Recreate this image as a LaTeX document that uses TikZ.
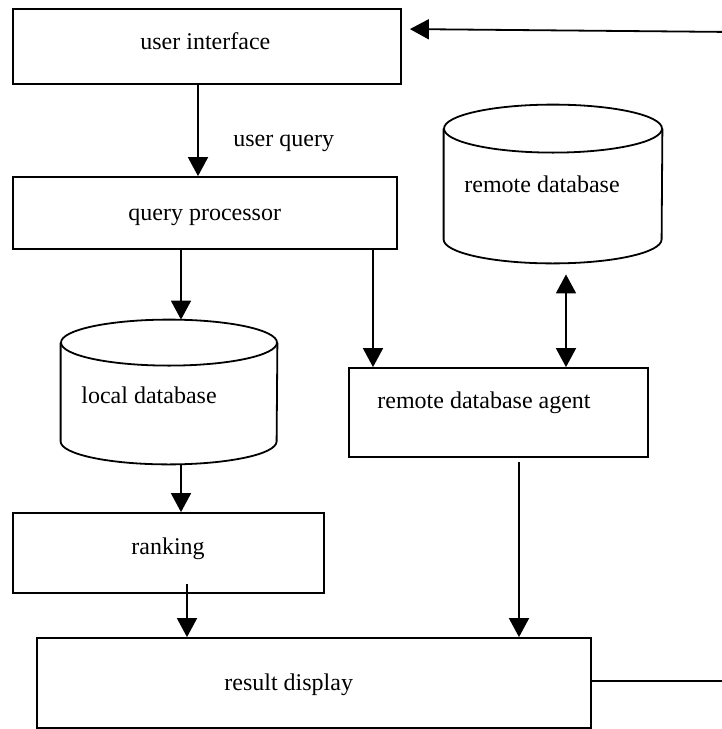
\documentclass[tikz,border=0pt]{standalone}
\usepackage{fontspec}
\setmainfont{Liberation Serif}
\usetikzlibrary{arrows.meta,fit}
\begin{document}
\begin{tikzpicture}[x=0.5pt,y=-0.5pt,
  line/.style={line width=0.9pt},
  arr/.style={line, -{Triangle[length=9.5pt,width=10pt]}},
  darr/.style={line, {Triangle[length=9.5pt,width=10pt]}-{Triangle[length=9.5pt,width=10pt]}},
  box/.style={draw, line width=0.9pt, inner sep=0pt},
  area/.style={inner sep=0pt},
  lbl/.style={anchor=base west, inner sep=0pt, font=\fontsize{12}{14}\selectfont}]
\useasboundingbox (0,0) rectangle (722,729);

% rectangular blocks
\node[box, fit={(13,9) (401,84)}]    (ui) {};
\node[box, fit={(13,177) (397,249)}] (qp) {};
\node[box, fit={(349,368) (648,457)}] (ag) {};
\node[box, fit={(13,513) (324,593)}] (rk) {};
\node[box, fit={(37,638) (591,728)}] (rd) {};

% database cylinders (outline drawn from the node's extent)
\node[area, fit={(61,320) (277,464)}]  (ldb) {};
\node[area, fit={(444,105) (662,263)}] (rdb) {};
\draw[line] ([yshift=-11.5pt]ldb.north) ellipse [x radius=54pt, y radius=11.5pt];
\draw[line] ([yshift=-11.5pt]ldb.north west) -- ([yshift=11.5pt]ldb.south west)
  arc[start angle=180, end angle=360, x radius=54pt, y radius=11.5pt]
  -- ([yshift=-11.5pt]ldb.north east);
\draw[line] ([yshift=-12pt]rdb.north) ellipse [x radius=54.5pt, y radius=12pt];
\draw[line] ([yshift=-12pt]rdb.north west) -- ([yshift=12pt]rdb.south west)
  arc[start angle=180, end angle=360, x radius=54.5pt, y radius=12pt]
  -- ([yshift=-12pt]rdb.north east);

% labels
\node[lbl] (tui) at (140,49)  {user interface};
\node[lbl] (tuq) at (233,146) {user query};
\node[lbl] (tqp) at (128,220) {query processor};
\node[lbl] (trdb) at (464,192) {remote database};
\node[lbl] (tldb) at (81,403) {local database};
\node[lbl] (tag) at (377,408) {remote database agent};
\node[lbl] (trk) at (131,554) {ranking};
\node[lbl] (trd) at (224,690) {result display};

% connector columns
\coordinate (x198) at (198,0);
\coordinate (x181) at (181,0);
\coordinate (x373) at (373,0);
\coordinate (x566) at (566,0);
\coordinate (x187) at (187,0);
\coordinate (x519) at (519,0);
\coordinate (c1) at (734,681);
\coordinate (c2) at (734,32);

% connectors
\draw[arr] (ui.south -| x198) -- (qp.north -| x198);
\draw[arr] (qp.south -| x181) -- (ldb.north -| x181);
\draw[arr] (qp.south -| x373) -- (ag.north -| x373);
\draw[darr, shorten <=5.5pt] (rdb.south -| x566) -- (ag.north -| x566);
\draw[arr] (ldb.south -| x181) -- (rk.north -| x181);
\draw[arr, shorten <=-5pt] (rk.south -| x187) -- (rd.north -| x187);
\draw[arr, shorten <=2pt] (ag.south -| x519) -- (rd.north -| x519);
\draw[arr, shorten >=4pt] (rd.east |- c1) -- (c1) -- (c2) -- ([yshift=8.75pt]ui.east);
\end{tikzpicture}
\end{document}
